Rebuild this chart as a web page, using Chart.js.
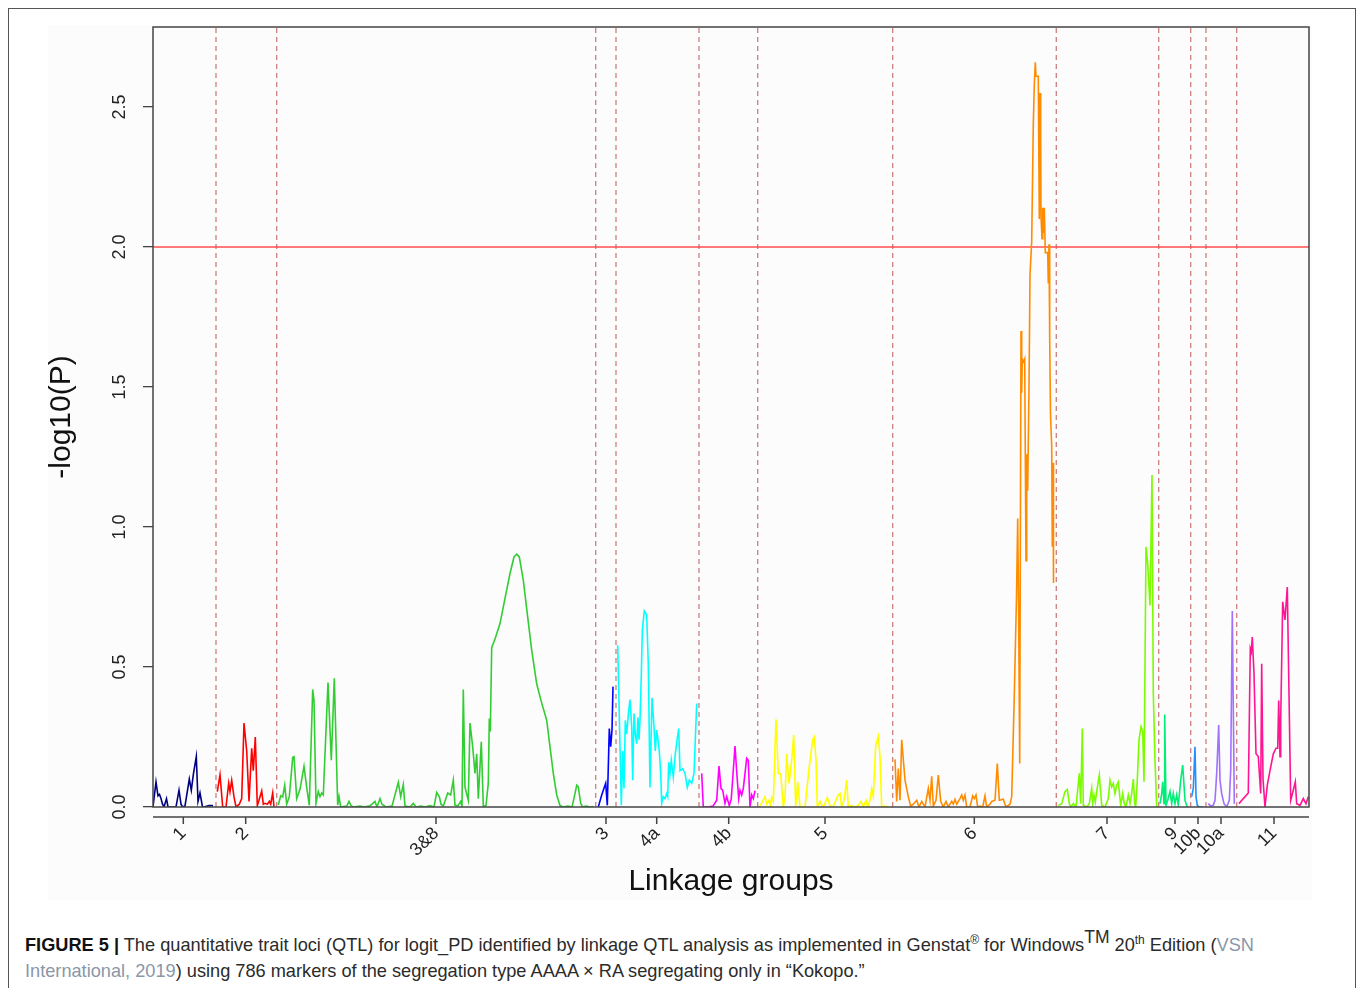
<!DOCTYPE html>
<html>
<head>
<meta charset="utf-8">
<title>QTL profile logit_PD</title>
<script src="https://cdn.jsdelivr.net/npm/chart.js@4.4.1/dist/chart.umd.min.js"></script>
<style>
  body { margin: 0; background: #fff; font-family: "Liberation Sans", Arial, sans-serif; }
  #frame { position: absolute; left: 8px; top: 8px; width: 1348px; height: 1000px; border: 1.5px solid #555; box-sizing: border-box; }
  #panel { position: absolute; left: 48px; top: 25px; width: 1264px; height: 875px; background: #fcfcfc; }
  #wrap { position: absolute; left: 0; top: 0; width: 1358px; height: 905px; }
  #caption { position: absolute; left: 25px; top: 933px; width: 1320px; font-size: 18.2px; line-height: 25.5px; color: #2b2b2b; white-space: nowrap; }
  #caption b { color: #111; }
  #caption sup { font-size: 12px; line-height: 0; vertical-align: 7px; }
  #caption sup.tm { font-size: 17.5px; vertical-align: 8px; }
  #caption .ref { color: #8a97a8; }
</style>
</head>
<body>
<div id="frame"></div>
<div id="panel"></div>
<div id="wrap"><canvas id="qtl" width="1358" height="905"></canvas></div>
<div id="caption"><b>FIGURE 5 |</b> The quantitative trait loci (QTL) for logit_PD identified by linkage QTL analysis as implemented in Genstat<sup>®</sup> for Windows<sup class="tm">TM</sup> 20<sup>th</sup> Edition (<span class="ref">VSN</span><br><span class="ref">International, 2019</span>) using 786 markers of the segregation type AAAA × RA segregating only in “Kokopo.”</div>

<script>
// linkage groups along the genome, in plotting order
const groupNames = ['1', '2', '3&8', '3', '4a', '4b', '5', '6', '7', '9', '10b', '10a', '11'];
const groupTicks = [30.3, 92.7, 283, 453, 503.7, 575.7, 672, 821.3, 954, 1022, 1045, 1068, 1121];
const groupColors = ['#000080', '#ff0000', '#32cd32', '#0000ff', '#00ffff', '#ff00ff', '#ffff00',
                     '#ff8c00', '#7cfc00', '#00ee76', '#1e90ff', '#a070ff', '#ff1493'];
// ends of the linkage groups (dashed separators)
const boundaries = [63, 123.7, 442.7, 463, 546, 604.7, 739.7, 903.3, 1005.7, 1037.7, 1053, 1083.7];
const threshold = 2.0;
const yTicks = [0, 0.5, 1.0, 1.5, 2.0, 2.5];
const xMax = 1156;
const yMax = 2.786;

// -log10(P) profiles, [position, value]
const lg1 = [[0,0],[3,0.09],[5,0.04],[6.5,0.045],[8,0.03],[9.5,0.01],[11,0],[13.5,0.03],[15,0],[23,0],
  [26,0.06],[28,0.01],[29.5,0],[32,0.004],[36.3,0.10],[38.3,0.06],[40.5,0.12],[43.3,0.18],[45,0.02],
  [47,0.05],[49.5,0],[51,0],[56,0.005],[60,0.005]];
const lg2 = [[64.3,0.055],[67,0.115],[69.7,0],[73,0],[75.7,0.085],[77,0.055],[78.7,0.095],[81,0.036],
  [83,0],[86.3,0.01],[88.7,0.03],[91,0.30],[93.7,0.20],[96,0.02],[98.7,0.21],[100.3,0.13],[102.3,0.25],
  [104.3,0.005],[106,0.024],[108.7,0.057],[110.3,0.01],[112,0.013],[114.3,0.01],[116.3,0.02],
  [117.7,0.01],[119.7,0.05],[121,0]];
const lg3and8 = [[125.3,0.007],[127.7,0.04],[129.7,0.036],[131.7,0.078],[133.7,0.01],[136.3,0.037],
  [139.7,0.177],[141,0.18],[143.7,0.03],[147,0.063],[151,0.145],[153.7,0.07],[156.3,0.006],[159.7,0.42],
  [161,0.38],[163,0.013],[165.3,0.055],[167,0.037],[168.7,0.05],[170.3,0.043],[175,0.445],[178.3,0.167],
  [181.3,0.46],[184.7,0.007],[186,0.037],[187.7,0],[193.7,0.003],[196,0.02],[198,0.005],[200.3,0],
  [207,0.003],[211,0],[217,0.004],[222,0.02],[224,0],[227,0.03],[229,0.01],[233,0],[239,0.003],
  [245.3,0.088],[247.7,0.037],[250.3,0.08],[252,0.003],[257,0],[260.3,0.013],[263,0],[268,0.003],
  [272,0],[277,0.005],[281,0],[283.7,0.052],[286.3,0.037],[288,0.01],[290.3,0.003],[294.7,0.05],
  [297.7,0.043],[300.3,0.096],[302,0.006],[305,0.005],[307.7,0.02],[309,0],[310.3,0.42],[312,0.07],
  [315.3,0.024],[317,0.30],[319.7,0.215],[322,0.12],[323.7,0.19],[325.3,0.03],[328.3,0.233],
  [330.3,0.003],[333,0.005],[335.3,0.085],[336.3,0.316],[337.3,0.27],[338.7,0.57],[342,0.60],
  [347,0.655],[352,0.745],[357,0.834],[361,0.893],[363.7,0.903],[366.3,0.893],[370.3,0.81],
  [374.3,0.69],[378.7,0.56],[383.7,0.44],[388,0.38],[393.7,0.31],[397,0.215],[400.3,0.12],
  [403.7,0.043],[407,0.005],[410.3,0],[415,0.003],[419,0],[422,0.048],[423.7,0.078],[425.3,0.072],
  [427.7,0.013],[429.7,0],[433,0.003],[437,0],[440.3,0.002]];
const lg3 = [[445.3,0],[448.7,0.043],[452.7,0.085],[454.3,0.006],[456.3,0.28],[457.7,0.215],
  [459,0.275],[460,0.43]];
const lg4a = [[464.7,0.578],[467,0.215],[468.3,0.006],[469.7,0.20],[471,0.066],[472.3,0.31],
  [473.7,0.26],[475.3,0.33],[477,0.384],[478.7,0.286],[479.7,0.096],[481,0.334],[482.3,0.26],
  [483.7,0.226],[485,0.32],[486,0.24],[487,0.31],[488.3,0.47],[489.3,0.63],[491.3,0.70],[493.7,0.686],
  [495.3,0.51],[497,0.07],[499,0.39],[501,0.286],[502.3,0.20],[503.7,0.275],[505,0.24],[506.3,0.20],
  [507.7,0.12],[508.7,0.013],[510.3,0.037],[512,0.03],[513.7,0.048],[514.7,0.037],[515.7,0.16],
  [517,0.12],[518.3,0.167],[520.3,0.107],[522.3,0.19],[524.3,0.245],[525.7,0.28],[527,0.13],
  [529.7,0.137],[532,0.12],[534.3,0.07],[536.3,0.096],[538.7,0.085],[541,0.12],[543.7,0.37]];
const lg4b = [[548.7,0.12],[550.3,0],[555.3,0],[560,0.003],[563.7,0.024],[566,0.146],[568,0.066],
  [569.7,0.06],[572,0.013],[573.7,0.037],[576.3,0.005],[578.3,0.03],[582,0.218],[583.7,0.126],
  [585.7,0.03],[587,0.06],[588.7,0.043],[590.3,0.066],[593.7,0.174],[595.3,0.167],[597,0],
  [598.7,0.043],[600.3,0.03],[602,0.058]];
const lg5 = [[607,0.005],[609.7,0.02],[612,0.037],[613.7,0.01],[616,0.024],[617.5,0.005],[618.7,0.034],
  [620.3,0.02],[623,0.313],[625.3,0.12],[627.7,0.118],[630.3,0],[632,0.037],[633.7,0.19],[636,0.084],
  [638.7,0.167],[640.7,0.257],[642.7,0],[644.7,0.09],[647,0],[652,0],[656.3,0.144],[659.7,0.24],
  [661.3,0.25],[663,0.167],[664.3,0],[667,0.02],[669,0.005],[671,0.005],[674.3,0.034],[677,0.005],
  [680,0],[685.3,0.043],[687,0.048],[688.7,0],[691,0.024],[693.7,0.096],[695.3,0],[698.7,0.005],
  [702,0],[705,0.005],[708,0.02],[710.3,0],[713,0.024],[714.7,0],[717,0.024],[718.7,0.066],
  [720.3,0.037],[722.7,0.22],[725.3,0.253],[727,0.18],[728.7,0],[732,0.003],[735.3,0]];
const lg6 = [[742,0.17],[743.7,0.02],[745.3,0.137],[747,0.024],[748.7,0.24],[752,0.096],[755.3,0.037],
  [757.7,0.003],[760.3,0.01],[763.7,0.024],[766,0],[768.7,0.02],[772,0],[775.3,0.066],[777,0.024],
  [778.7,0.11],[780.3,0.003],[783,0.024],[785.3,0.114],[787.7,0.02],[790.3,0],[793,0.02],[795.3,0],
  [798.7,0.02],[800.3,0.01],[802,0.027],[803.7,0.01],[807,0.03],[808.7,0.043],[810.3,0.024],
  [812,0.043],[813.7,0],[817,0],[819.7,0.04],[821.3,0.03],[823,0.043],[824.7,0],[827,0.003],
  [829.7,0],[832,0.04],[833.7,0],[837,0.01],[838.7,0.02],[842,0.024],[844.3,0.155],[846.3,0.024],
  [850.3,0.028],[853,0],[857,0.01],[858.7,0.037],[861.3,0.40],[863.5,0.75],[864.7,1.03],[865.7,0.67],
  [866.7,0.155],[868,1.70],[868.7,1.48],[869.3,1.60],[870.7,1.59],[871.7,1.60],[872.3,1.26],
  [873,0.88],[873.7,1.26],[874.7,1.13],[876,1.50],[877,1.90],[878.7,2.02],[880.3,2.44],[881.3,2.58],
  [882.3,2.66],[883,2.61],[885.3,2.61],[886.3,2.10],[887,2.55],[887.7,2.38],[888,2.11],[889,2.03],
  [889.7,2.14],[890.3,2.05],[891.3,2.14],[892.3,1.98],[894.7,1.98],[895.3,1.87],[896,2.01],
  [896.7,1.67],[897.5,1.40],[898.7,1.29],[899.3,0.93],[900,1.23],[900.5,0.80]];
const lg7 = [[905.3,0.005],[908.7,0.012],[912,0.055],[914.3,0.063],[916.3,0.012],[918,0],[920.3,0.012],
  [923,0],[926.3,0.12],[927.7,0.012],[929.3,0.28],[930.3,0.006],[933.7,0],[936.3,0.012],[938.7,0.066],
  [939.7,0.012],[941,0.043],[942.3,0.018],[943.7,0.055],[946.3,0.114],[948.7,0.006],[952,0],
  [955.3,0.03],[957,0.096],[958.7,0.072],[960.3,0.084],[962,0.048],[963.7,0.078],[965.3,0.09],
  [967.7,0.006],[969.7,0.048],[971.3,0.012],[973,0],[975.3,0.043],[977,0.012],[978.7,0.048],
  [980.3,0.10],[981.7,0.012],[982.7,0],[984.3,0.096],[986,0.24],[988,0.287],[989.7,0.27],[991,0.09],
  [993,0.929],[994.7,0.87],[997,0.72],[999,1.186],[1000.3,0.405],[1002,0.167],[1003.7,0]];
const lg9 = [[1007,0.012],[1008.7,0.048],[1009.7,0.09],[1011,0.012],[1011.7,0.33],[1013,0.006],
  [1014.7,0.024],[1017,0.055],[1018.7,0.012],[1020.3,0.048],[1022,0.012],[1023.7,0.043],
  [1025.3,0.006],[1027.7,0.096],[1029.7,0.15],[1032,0.024],[1034.3,0]];
const lg10b = [[1038.7,0.037],[1040.3,0.066],[1042,0.215],[1043,0.037],[1044.3,0.006],[1046.3,0],
  [1049.7,0]];
const lg10a = [[1055.3,0.012],[1057.7,0.003],[1060.3,0.006],[1062,0.024],[1063.7,0.12],[1065.7,0.293],
  [1067,0.096],[1068.7,0.048],[1071,0.012],[1073.7,0],[1076.3,0.024],[1077.7,0.13],[1079.3,0.70],
  [1081.3,0.012]];
const lg11 = [[1086,0.012],[1090.3,0.03],[1095.3,0.05],[1097.3,0.566],[1098.3,0.554],[1099.3,0.607],
  [1101,0.477],[1103,0.19],[1105.3,0.18],[1107.7,0.048],[1108.7,0.512],[1110,0.1],[1112,0],
  [1114.3,0.078],[1117,0.13],[1120.3,0.19],[1123,0.21],[1124.7,0.21],[1125.7,0.38],[1127,0.18],
  [1127.7,0.31],[1129.7,0.733],[1132,0.668],[1134.3,0.786],[1137.7,0.024],[1140.3,0.06],
  [1142.3,0.09],[1143.7,0.012],[1147,0.006],[1150.3,0.03],[1153,0.012],[1155.3,0.037]];

const profiles = [lg1, lg2, lg3and8, lg3, lg4a, lg4b, lg5, lg6, lg7, lg9, lg10b, lg10a, lg11];
const family = '"Liberation Sans", Arial, Helvetica, sans-serif';

const datasets = profiles.map((pts, i) => ({
  label: 'LG ' + groupNames[i],
  data: pts.map(p => ({x: p[0], y: p[1]})),
  borderColor: groupColors[i],
  borderWidth: 1.6,
  order: 0
}));
datasets.push({
  label: 'threshold',
  data: [{x: 0, y: threshold}, {x: xMax, y: threshold}],
  borderColor: 'rgba(255,60,60,0.9)',
  borderWidth: 1.6,
  order: 1
});
boundaries.forEach(b => datasets.push({
  label: 'end of group',
  data: [{x: b, y: 0}, {x: b, y: yMax}],
  borderColor: 'rgba(195,105,105,0.85)',
  borderWidth: 1.3,
  borderDash: [5, 4],
  order: 2
}));

// plot box, offset x axis line and the upright y labels
const axesBox = {
  id: 'axesBox',
  afterDatasetsDraw(chart) {
    const {ctx, chartArea: a, scales: {x, y}} = chart;
    ctx.save();
    ctx.strokeStyle = '#444';
    ctx.lineWidth = 1.5;
    ctx.strokeRect(a.left, a.top, a.right - a.left, a.bottom - a.top);

    const axisY = a.bottom + 10;
    ctx.beginPath();
    ctx.moveTo(a.left, axisY);
    ctx.lineTo(a.right, axisY);
    x.ticks.forEach(t => {
      const px = x.getPixelForValue(t.value);
      ctx.moveTo(px, axisY);
      ctx.lineTo(px, axisY + 7);
    });
    ctx.stroke();

    ctx.fillStyle = '#222';
    ctx.font = '18px ' + family;
    ctx.textAlign = 'center';
    ctx.textBaseline = 'middle';
    y.ticks.forEach(t => {
      ctx.save();
      ctx.translate(120, y.getPixelForValue(t.value));
      ctx.rotate(-Math.PI / 2);
      ctx.fillText(t.value.toFixed(1), 0, 0);
      ctx.restore();
    });
    ctx.restore();
  }
};

new Chart(document.getElementById('qtl'), {
  type: 'line',
  data: {datasets},
  plugins: [axesBox],
  options: {
    responsive: false,
    animation: false,
    devicePixelRatio: 1,
    layout: {padding: {left: 0, top: 27, right: 49, bottom: 0}},
    elements: {point: {radius: 0}, line: {tension: 0}},
    plugins: {legend: {display: false}, tooltip: {enabled: false}},
    scales: {
      x: {
        type: 'linear',
        min: 0,
        max: xMax,
        afterBuildTicks: s => { s.ticks = groupTicks.map(v => ({value: v})); },
        afterFit: s => { s.height = 98; },
        grid: {display: false, drawTicks: false},
        border: {display: false},
        ticks: {
          autoSkip: false, minRotation: 45, maxRotation: 45, padding: 16,
          color: '#222', font: {size: 18, family},
          callback: (v, i) => groupNames[i]
        },
        title: {display: true, text: 'Linkage groups', color: '#111',
                font: {size: 30, family}, padding: {top: 0, bottom: 5}}
      },
      y: {
        min: 0,
        max: yMax,
        afterBuildTicks: s => { s.ticks = yTicks.map(v => ({value: v})); },
        afterFit: s => { s.width = 153; },
        grid: {drawOnChartArea: false, drawTicks: true, tickLength: 10, color: '#444', lineWidth: 1.3},
        border: {display: false},
        ticks: {display: false},
        title: {display: true, text: '-log10(P)', color: '#111',
                font: {size: 30, family}, padding: {top: 44, bottom: 0}}
      }
    }
  }
});
</script>
</body>
</html>
